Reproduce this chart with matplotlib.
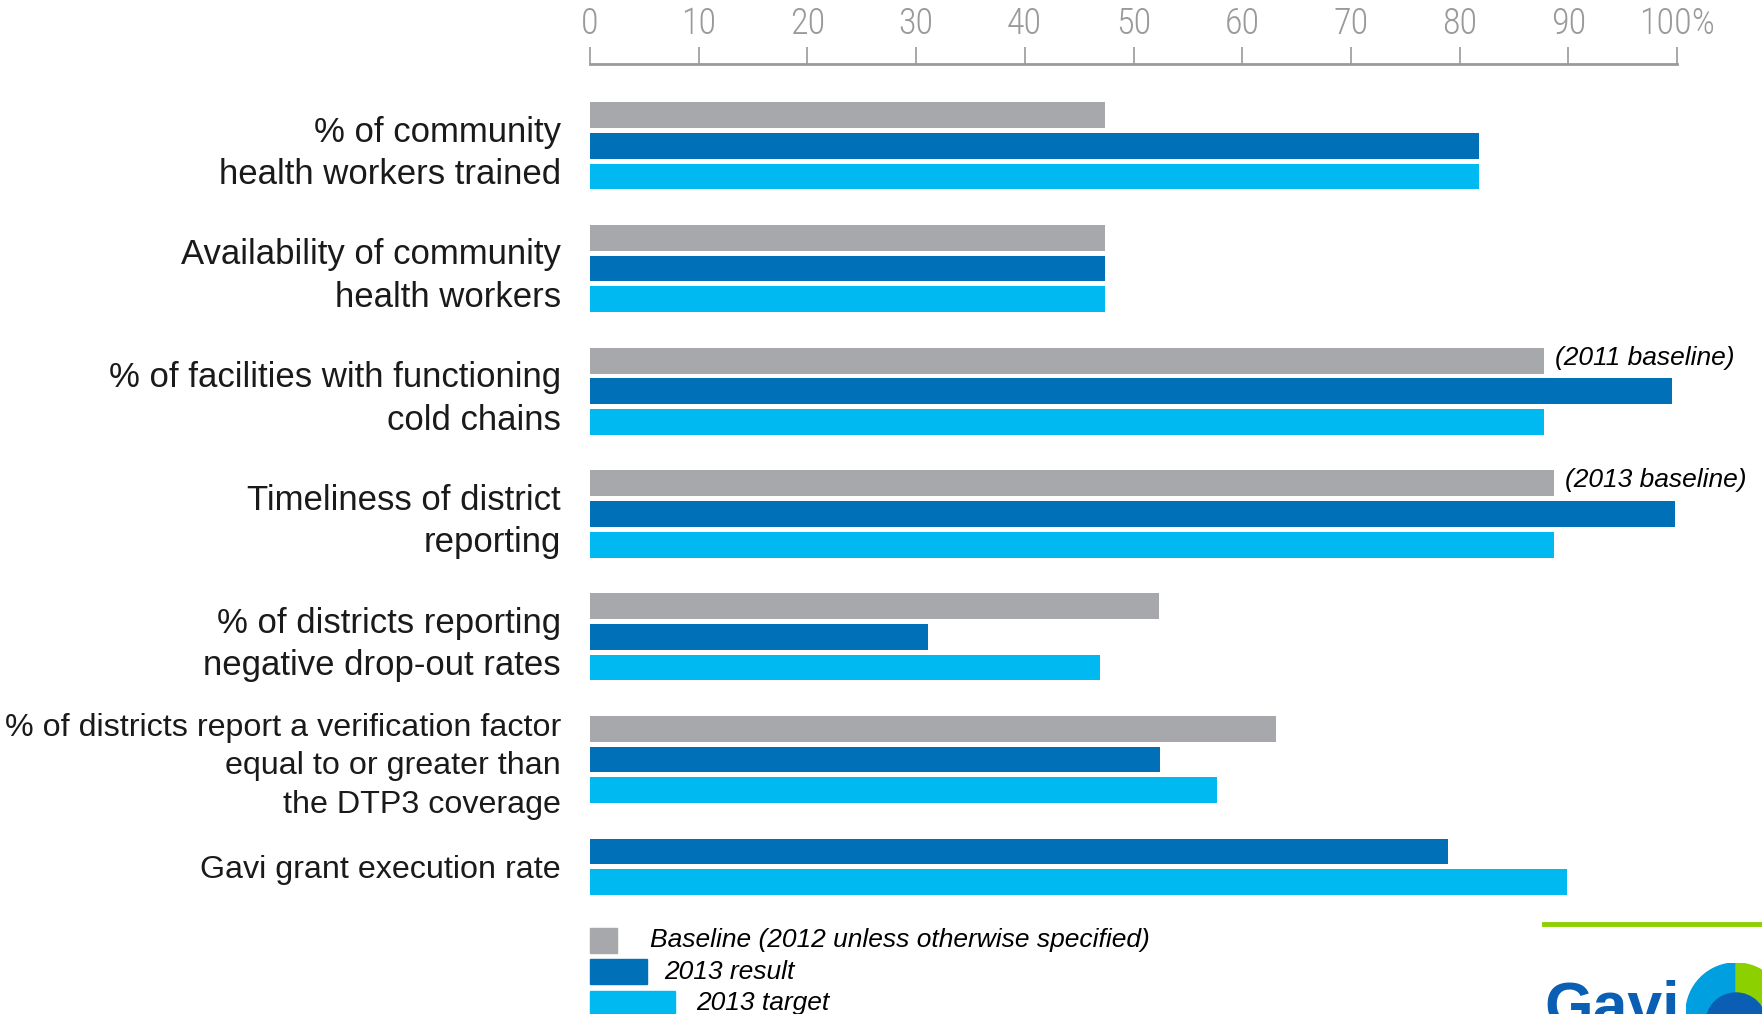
import matplotlib
matplotlib.use("Agg")
import matplotlib.pyplot as plt
import numpy as np
from matplotlib.patches import Rectangle, Wedge, Circle

# data
categories = ["% of community\nhealth workers trained",
              "Availability of community\nhealth workers",
              "% of facilities with functioning\ncold chains",
              "Timeliness of district\nreporting",
              "% of districts reporting\nnegative drop-out rates",
              "% of districts report a verification factor\nequal to or greater than\nthe DTP3 coverage",
              "Gavi grant execution rate"]
baseline = [47.4, 47.4, 87.8, 88.7, 52.3, 63.1, np.nan]
result_2013 = [81.8, 47.4, 99.5, 99.8, 31.1, 52.4, 78.9]
target_2013 = [81.8, 47.4, 87.8, 88.7, 46.9, 57.7, 89.9]
notes = {2: "(2011 baseline)", 3: "(2013 baseline)"}

series_names = ["Baseline (2012 unless otherwise specified)", "2013 result", "2013 target"]
colors = ["#a7a8ac", "#0070b8", "#00b9f0"]
tick_vals = np.arange(0, 101, 10)
tick_labels = [str(t) for t in tick_vals[:-1]] + ["100%"]
label_sizes = [25, 25, 25, 25, 25, 23.2, 23.2]

W, H = 1762, 1014
fig = plt.figure(figsize=(W / 100, H / 100), dpi=100)
ax = fig.add_axes([590 / W, 1 - 899 / H, 1087 / W, (899 - 64) / H])

bar_h = 0.84
centers = []
for i, vals in enumerate(zip(baseline, result_2013, target_2013)):
    slot = 0
    ys = []
    for j, v in enumerate(vals):
        if np.isnan(v):
            continue
        y = 4 * i + slot
        ax.barh(y, v, height=bar_h, color=colors[j], edgecolor="none")
        ys.append(y)
        slot += 1
    centers.append(np.mean(ys) - 0.02)
    if i in notes:
        ax.text(baseline[i] + 1, 4 * i - 0.1, notes[i], fontsize=19, style="italic",
                family="Liberation Sans", va="center", ha="left", clip_on=False)

# legend drawn by hand (handles of different widths)
leg_w = [2.5, 5.2, 7.8]
leg_tx = [5.5, 6.8, 9.8]
for j in range(3):
    yl = 26.9 + j * 1.02
    ax.add_patch(Rectangle((0, yl - 0.4), leg_w[j], 0.8, color=colors[j], clip_on=False))
    ax.text(leg_tx[j], yl, series_names[j], fontsize=19, style="italic",
            family="Liberation Sans", va="center", ha="left", clip_on=False)

ax.set_xlim(0, 100)
ax.set_ylim(25.55, -1.67)
ax.xaxis.tick_top()
ax.set_xticks(tick_vals)
ax.set_xticklabels(tick_labels,
                   family=["Roboto Condensed", "Liberation Sans Narrow", "DejaVu Sans"],
                   fontstretch="condensed", fontweight="light", fontsize=26, color="#9a9a9a")
ax.tick_params(axis="x", direction="out", length=12, width=1.2, color="#9a9a9a", pad=4)
ax.set_yticks(centers)
ax.set_yticklabels(categories, family="Liberation Sans", color="#1a1a1a", linespacing=1.36)
for lab, fs in zip(ax.get_yticklabels(), label_sizes):
    lab.set_fontsize(fs)
ax.tick_params(axis="y", length=0, pad=21)
for s in ["left", "right", "bottom"]:
    ax.spines[s].set_visible(False)
ax.spines["top"].set_color("#9a9a9a")
ax.spines["top"].set_linewidth(2)

# green rule and logo at bottom right
fig.add_artist(plt.Line2D([1544 / W, 1], [1 - 924 / H] * 2, color="#8cd000", lw=3.5))
fig.text(1544 / W, 1 - 1026 / H, "Gavi", fontsize=45, weight="bold", color="#0a5fb4",
         family="Liberation Sans", va="baseline")
r = 50
logo = fig.add_axes([(1736 - r) / W, (H - 1013 - r) / H, 2 * r / W, 2 * r / H])
logo.set_xlim(-1, 1)
logo.set_ylim(-1, 1)
logo.axis("off")
logo.add_patch(Wedge((0, 0), 1, 90, 270, color="#009fdf"))
logo.add_patch(Wedge((0, 0), 1, -90, 90, color="#8cd000"))
logo.add_patch(Circle((0, -0.2), 0.6, color="#0a5fb4"))

fig.savefig("out.png", dpi=100)
